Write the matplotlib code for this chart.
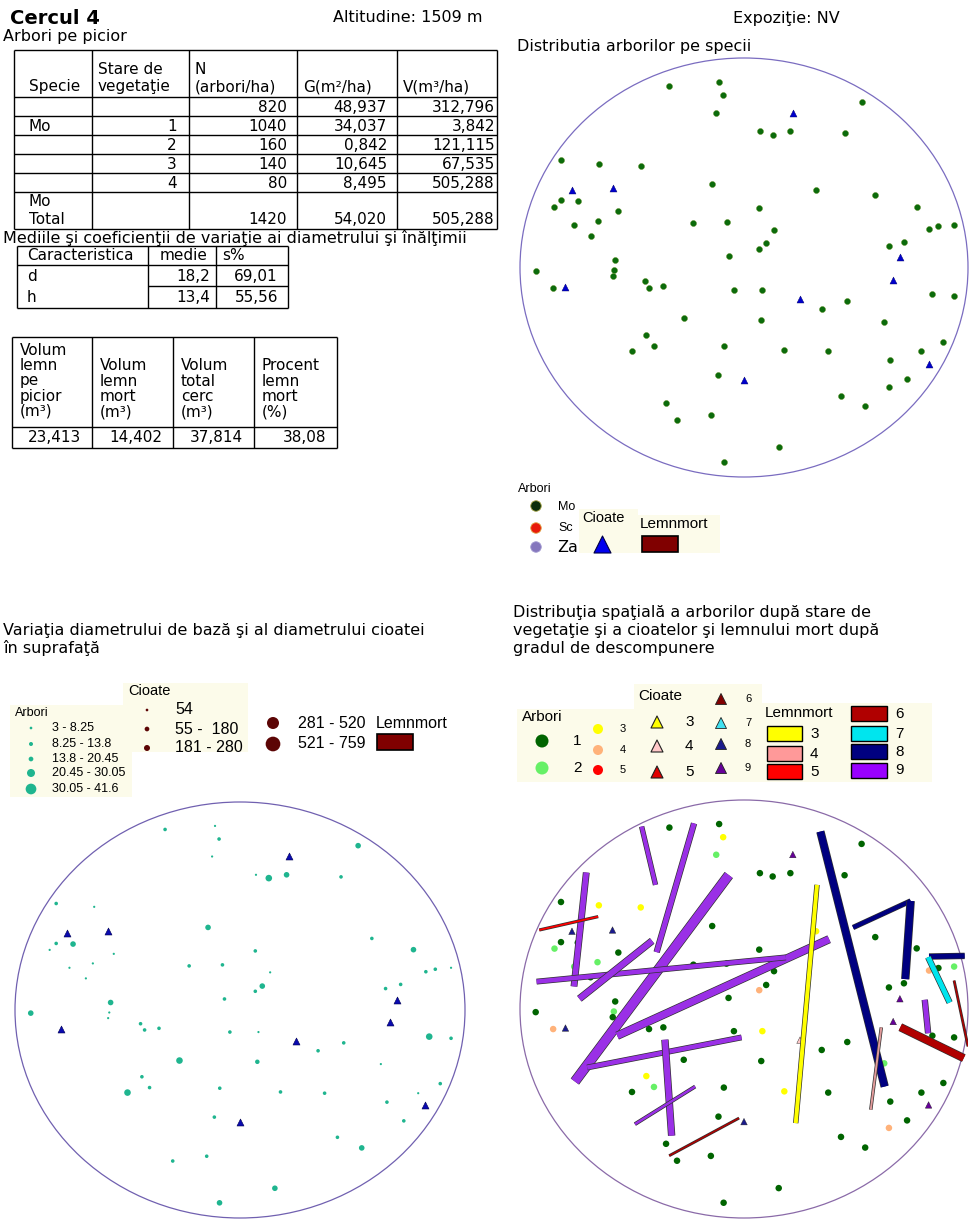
import matplotlib
matplotlib.use('Agg')
import matplotlib.pyplot as plt
from matplotlib.patches import Ellipse, Rectangle
import matplotlib.patheffects as pe

# ---------------- DATA ----------------
header_title = "Cercul 4"
altitude_text = "Altitudine: 1509 m"
expo_text = "Expoziţie: NV"

t1_header = ["Specie", "Stare de\nvegetaţie", "N\n(arbori/ha)", "G(m²/ha)", "V(m³/ha)"]
t1_specie = ["", "Mo", "", "", "", "Mo\nTotal"]
t1_stare = ["", "1", "2", "3", "4", ""]
t1_N = ["820", "1040", "160", "140", "80", "1420"]
t1_G = ["48,937", "34,037", "0,842", "10,645", "8,495", "54,020"]
t1_V = ["312,796", "3,842", "121,115", "67,535", "505,288", "505,288"]

t2_header = ["Caracteristica", "medie", "s%"]
t2_char = ["d", "h"]
t2_medie = ["18,2", "13,4"]
t2_s = ["69,01", "55,56"]

t3_header = ["Volum\nlemn\npe\npicior\n(m³)", "Volum\nlemn\nmort\n(m³)", "Volum\ntotal\ncerc\n(m³)", "Procent\nlemn\nmort\n(%)"]
t3_values = ["23,413", "14,402", "37,814", "38,08"]

# tree positions (plot coordinates, circle radius = 10)
tree_x = [-3.33, -1.11, -0.93, -1.24, 5.25, 0.71, 1.28, 2.07, 4.49, -8.17,
          -6.48, -4.61, -1.42, 3.22, 5.86, -8.17, -7.42, -8.46, -5.61, 7.71,
          0.68, -7.58, -6.54, -2.26, -0.78, 8.26, 8.68, 9.38, 1.34, -6.85,
          6.47, 7.14, 0.99, 0.68, -0.69, -5.75, -9.30, -5.81, -5.86, -8.52,
          -4.42, -4.24, -3.60, -0.45, 0.82, 8.41, 9.38, 3.47, 4.61, -2.69,
          0.77, 6.26, -4.36, -5.00, -4.02, -0.90, 1.80, 3.76, 8.90, 7.92,
          6.53, -1.14, 7.28, 6.47, 4.33, 5.41, -3.48, -2.99, -1.48, 1.55, -0.91]
tree_y = [8.68, 8.85, 8.22, 7.38, 7.90, 6.50, 6.34, 6.50, 6.40, 5.12,
          4.96, 4.86, 3.97, 3.72, 3.44, 3.20, 3.17, 2.89, 2.70, 2.90,
          2.84, 2.03, 2.24, 2.12, 2.17, 1.84, 1.96, 2.03, 1.81, 1.52,
          1.03, 1.23, 1.15, 0.90, 0.53, 0.36, -0.15, -0.12, -0.39, -0.96,
          -0.66, -0.96, -0.88, -1.06, -1.06, -1.28, -1.36, -1.96, -1.58, -2.43,
          -2.49, -2.60, -3.21, -3.97, -3.73, -3.76, -3.94, -4.00, -3.54, -4.00,
          -4.43, -5.15, -5.33, -5.69, -6.12, -6.63, -6.45, -7.26, -7.03, -8.57, -9.27]
tree_species = ["Mo"] * 71
# stare de vegetatie (1..5)
tree_state = [1, 1, 3, 2, 1, 1, 1, 1, 1, 1,
              3, 3, 1, 3, 1, 1, 1, 2, 1, 1,
              1, 2, 2, 1, 1, 4, 1, 2, 1, 1,
              1, 1, 1, 4, 1, 1, 1, 2, 1, 4,
              1, 1, 1, 1, 3, 1, 1, 1, 1, 1,
              1, 2, 3, 1, 2, 1, 3, 1, 1, 1,
              1, 1, 1, 4, 1, 1, 1, 1, 1, 1, 1]
# diameter class (1..5, 0 = no diameter recorded)
tree_dclass = [2, 1, 2, 1, 4, 1, 5, 4, 2, 2,
               1, 0, 4, 0, 2, 2, 4, 1, 1, 4,
               2, 1, 1, 2, 2, 2, 2, 1, 1, 1,
               2, 2, 4, 2, 2, 4, 4, 1, 1, 0,
               2, 2, 2, 2, 1, 5, 2, 2, 2, 5,
               3, 1, 2, 5, 2, 2, 2, 2, 2, 1,
               2, 2, 2, 0, 2, 4, 0, 2, 2, 4, 4]

# stumps (cioate)
stump_x = [2.18, -7.68, -5.87, 6.96, 6.66, -7.97, 2.50, 8.24, 0.00]
stump_y = [7.39, 3.72, 3.78, 0.49, -0.60, -0.91, -1.49, -4.59, -5.39]
stump_decomp = [9, 8, 8, 9, 9, 8, 4, 9, 8]

# dead wood logs (lemn mort): start, end, decomposition class, relative thickness
log_x0 = [-4.57, -2.23, -7.04, -0.68, 3.80, -9.26, -4.10, -0.11, -3.53, -2.18, 8.07,
          3.41, 4.87, 7.44, 8.26, 8.22, 6.98, -3.34, 9.38, -9.14, 3.26, 6.13]
log_y0 = [8.73, 8.88, 6.53, 6.41, 3.34, 1.31, 3.26, -1.36, -1.47, -3.71, 0.44,
          8.49, 3.90, 5.17, 2.51, 2.48, -0.87, -7.02, 1.36, 3.78, 5.94, -0.88]
log_x1 = [-3.95, -3.90, -7.59, -7.55, -5.66, 1.87, -7.35, -7.00, -3.23, -4.87, 8.22,
          6.28, 7.44, 7.20, 9.85, 9.18, 9.81, -0.22, 10.0, -6.51, 2.31, 5.66]
log_y1 = [5.94, 2.72, 1.08, -3.47, -1.28, 2.47, 0.49, -2.80, -6.06, -5.51, -1.16,
          -3.71, 5.17, 1.43, 2.54, 0.31, -2.35, -5.22, -1.79, 4.42, -5.46, -4.82]
log_class = [9, 9, 9, 9, 9, 9, 9, 9, 9, 9, 9,
             8, 8, 8, 8, 7, 6, 6, 6, 5, 3, 4]
log_thick = [4, 5, 5.5, 9, 7, 4.5, 6, 4.5, 6, 2.5, 5,
             7, 4, 7, 5, 5, 7, 1.5, 1.5, 1.8, 4, 2]

# legend labels
dclass_labels = ["3 - 8.25", "8.25 - 13.8", "13.8 - 20.45", "20.45 - 30.05", "30.05 - 41.6"]
stumpd_labels = ["54", "55 -  180", "181 - 280", "281 - 520", "521 - 759"]
species_labels = ["Mo", "Sc", "Za"]

# ---------------- STYLE ----------------
W, H = 969, 1219
BODY = 'DejaVu Sans'
LEG = 'Liberation Sans'
FS = 11.5      # free text
TFS = 11       # table text
CREAM = '#fcfbea'
GREEN = '#0b6b0b'
TEAL = '#1fb58f'
state_colors = {1: '#006400', 2: '#66f066', 3: '#ffff00', 4: '#ffb27a', 5: '#ff0000'}
stump_colors = {3: '#ffff00', 4: '#ffc8c8', 5: '#e00000', 6: '#800000', 7: '#40e0f0', 8: '#1a1a8c', 9: '#660099'}
log_colors = {3: '#ffff00', 4: '#e09a9a', 5: '#ff0000', 6: '#b00000', 7: '#00e5ee', 8: '#000080', 9: '#9a30e6'}
log_colors_leg = {3: '#ffff00', 4: '#ff9999', 5: '#ff0000', 6: '#b00000', 7: '#00e5ee', 8: '#000080', 9: '#9900ff'}
dclass_px = {1: 2.2, 2: 3.6, 3: 4.5, 4: 5.6, 5: 6.6}


def s_px(d):
    return (d * 0.72) ** 2


fig = plt.figure(figsize=(W / 100, H / 100), dpi=100)
ov = fig.add_axes([0, 0, 1, 1])
ov.set_xlim(0, W)
ov.set_ylim(H, 0)
ov.axis('off')


def txt(x, y, s, size=FS, ha='left', weight='normal', family=BODY, va='center', ls=1.0):
    ov.text(x, y, s, fontsize=size, ha=ha, va=va, weight=weight, family=family,
            linespacing=ls, color='black')


def mtxt(x, y_first, y_last, s, size=TFS, ha='left'):
    """multi-line text whose first/last line centres are at y_first/y_last (pixels)."""
    n = s.count("\n") + 1
    step = (y_last - y_first) / (n - 1)
    ls = step / (size * 100 / 72)
    ov.text(x, (y_first + y_last) / 2, s, fontsize=size, ha=ha, va='center', family=BODY,
            linespacing=ls, color='black', multialignment=ha)


def hline(x0, x1, y, lw=1.0):
    ov.plot([x0, x1], [y, y], color='black', lw=lw, solid_capstyle='butt')


def vline(x, y0, y1, lw=1.0):
    ov.plot([x, x], [y0, y1], color='black', lw=lw, solid_capstyle='butt')


def box(x0, y0, x1, y1, fc, ec='none', lw=0.0, z=1):
    ov.add_patch(Rectangle((x0, y0), x1 - x0, y1 - y0, fc=fc, ec=ec, lw=lw, zorder=z))


# ---------------- Header texts ----------------
txt(10, 18, header_title, size=14, weight='bold')
txt(333, 18, altitude_text)
txt(733, 18, expo_text)
txt(3, 37, "Arbori pe picior")

# ---------------- Table 1 ----------------
c1 = [14, 92, 189, 297, 397, 497]
r1 = [50, 97, 116, 135, 154, 173, 192, 229]
for x in c1:
    vline(x, r1[0], r1[-1])
for y in r1:
    hline(c1[0], c1[-1], y)
txt(c1[0] + 15, 87, t1_header[0], size=TFS)
for j in range(1, 5):
    if "\n" in t1_header[j]:
        mtxt(c1[j] + 6, 69, 87, t1_header[j])
    else:
        txt(c1[j] + 6, 87, t1_header[j], size=TFS)
cols = [t1_stare, t1_N, t1_G, t1_V]
pads = [12, 10, 10, 2]
for i in range(6):
    yc = (r1[i + 1] + r1[i + 2]) / 2 + 1
    ybot = r1[i + 2] - 9
    if "\n" in t1_specie[i]:
        mtxt(c1[0] + 15, ybot - 19, ybot, t1_specie[i])
    elif t1_specie[i]:
        txt(c1[0] + 15, yc, t1_specie[i], size=TFS)
    for j, col in enumerate(cols):
        if col[i]:
            txt(c1[j + 2] - pads[j], ybot if i == 5 else yc, col[i], ha='right', size=TFS)

# ---------------- Table 2 ----------------
txt(3, 238, "Mediile şi coeficienţii de variaţie ai diametrului şi înălţimii")
c2 = [17, 148, 216, 288]
r2 = [246, 265, 286, 308]
for x in c2:
    vline(x, r2[0], r2[-1])
hline(c2[0], c2[-1], r2[0])
hline(c2[0], c2[-1], r2[1])
hline(c2[1], c2[-1], r2[2])
hline(c2[0], c2[-1], r2[3])
txt(27, 255.5, t2_header[0], size=TFS)
txt(160, 255.5, t2_header[1], size=TFS)
txt(222, 255.5, t2_header[2], size=TFS)
for i in range(2):
    yc = (r2[i + 1] + r2[i + 2]) / 2 + 1
    txt(27, yc, t2_char[i], size=TFS)
    txt(c2[2] - 6, yc, t2_medie[i], ha='right', size=TFS)
    txt(c2[3] - 10, yc, t2_s[i], ha='right', size=TFS)

# ---------------- Table 3 ----------------
c3 = [12, 92, 173, 254, 337]
r3 = [337, 427, 448]
for x in c3:
    vline(x, r3[0], r3[-1])
for y in r3:
    hline(c3[0], c3[-1], y)
line_y = [350, 365.5, 381, 396.5, 412]
for j in range(4):
    n = t3_header[j].count("\n") + 1
    ys = line_y[len(line_y) - n:]
    mtxt(c3[j] + 8, ys[0], ys[-1], t3_header[j])
    txt(c3[j + 1] - 11, 438, t3_values[j], ha='right', size=TFS)

# ---------------- Circle axes ----------------
R = 10.0


def circ_ax(left, top, right, bottom, ec):
    ax = fig.add_axes([left / W, 1 - bottom / H, (right - left) / W, (bottom - top) / H])
    ax.set_xlim(-R, R)
    ax.set_ylim(-R, R)
    ax.axis('off')
    ax.add_patch(Ellipse((0, 0), 2 * R, 2 * R, fill=False, ec=ec, lw=0.9, clip_on=False, zorder=1))
    return ax


# Top-right: species distribution
txt(517, 46, "Distributia arborilor pe specii")
ax1 = circ_ax(520, 58, 968, 477, '#7a6cc0')
ax1.scatter(tree_x, tree_y, s=s_px(6), c=GREEN, edgecolors='#5a8a20', linewidths=0.3, zorder=3)
ax1.scatter(stump_x, stump_y, s=s_px(7), marker='^', c='#0000cc', edgecolors='#000066',
            linewidths=0.3, zorder=3)

# legend top-right
txt(518, 489, "Arbori", size=9, family=LEG)
sp_colors = ['#0b2e0b', '#e81a0a', '#8577bd']
sp_y = [506, 528, 547]
ov.scatter([536] * 3, sp_y, s=s_px(10.5), c=sp_colors, edgecolors=['#a0a040', '#e0a040', '#a098d0'],
           linewidths=0.6, zorder=3)
txt(558, 507, species_labels[0], size=9, family=LEG)
txt(558, 528, species_labels[1], size=9, family=LEG)
txt(557, 548, species_labels[2], size=FS, family=BODY)
box(579, 509, 638, 553, CREAM)
box(638, 515, 720, 553, CREAM)
txt(582, 518, "Cioate", size=10.5, family=LEG)
ov.scatter([602], [544], s=s_px(17), marker='^', c='#0000ee', edgecolors='#000044', linewidths=0.8, zorder=3)
txt(640, 524, "Lemnmort", size=11, family=LEG)
box(642, 536, 678, 552, '#800000', ec='black', lw=1.2, z=3)

# ---------------- Bottom-left: diameters ----------------
txt(3, 631, "Variaţia diametrului de bază şi al diametrului cioatei")
txt(3, 648, "în suprafaţă")
ax2 = circ_ax(15, 802, 465, 1218, '#7060b0')
bx = [x for x, d in zip(tree_x, tree_dclass) if d > 0]
by = [y for y, d in zip(tree_y, tree_dclass) if d > 0]
bs = [s_px(dclass_px[d]) for d in tree_dclass if d > 0]
ax2.scatter(bx, by, s=bs, c=TEAL, edgecolors='none', zorder=3)
ax2.scatter(stump_x, stump_y, s=s_px(7), marker='^', c='#0a0ab0', edgecolors='#000050',
            linewidths=0.4, zorder=3)

# legend bottom-left
box(10, 705, 132, 797, CREAM)
box(123, 683, 248, 752, CREAM)
txt(15, 713, "Arbori", size=9, family=LEG)
leg_d = [2.7, 4.0, 4.7, 8.0, 10.7]
leg_y = [728, 744, 759, 773, 789]
ov.scatter([31] * 5, leg_y, s=[s_px(d) for d in leg_d], c=TEAL, edgecolors='none', zorder=3)
for lab, y in zip(dclass_labels, leg_y):
    txt(52, y, lab, size=9, family=LEG)
txt(128, 691, "Cioate", size=10.5, family=LEG)
st_d = [2.7, 4.7, 6.0, 12.0, 14.7]
st_x = [147, 147, 147, 273, 273]
st_y = [710, 729, 748, 723, 744]
ov.scatter(st_x, st_y, s=[s_px(d) for d in st_d], c='#5c0505', edgecolors='none', zorder=3)
lab_x = [175, 175, 175, 298, 298]
for lab, x, y in zip(stumpd_labels, lab_x, st_y):
    txt(x, y, lab, size=11.5, family=LEG)
txt(376, 723, "Lemnmort", size=11.5, family=LEG)
box(377, 734, 413, 750, '#800000', ec='black', lw=1.2, z=3)

# ---------------- Bottom-right: state & dead wood ----------------
txt(513, 612, "Distribuţia spaţială a arborilor după stare de")
txt(513, 630, "vegetaţie şi a cioatelor şi lemnului mort după")
txt(513, 648, "gradul de descompunere")
ax3 = circ_ax(520, 800, 968, 1218, '#8a6aa8')
ax3.scatter(tree_x, tree_y, s=s_px(6.5), c=[state_colors[s] for s in tree_state],
            edgecolors='none', zorder=3)
ax3.scatter(stump_x, stump_y, s=s_px(6.5), marker='^', c=[stump_colors[c] for c in stump_decomp],
            edgecolors='#202020', linewidths=0.3, zorder=3)
for x0, y0, x1, y1, c, t in zip(log_x0, log_y0, log_x1, log_y1, log_class, log_thick):
    lw = t * 0.72
    ax3.plot([x0, x1], [y0, y1], color=log_colors[c], lw=lw, solid_capstyle='butt', zorder=4,
             path_effects=[pe.Stroke(linewidth=lw + 1.0, foreground='#303030'), pe.Normal()])

# legend bottom-right
box(517, 709, 634, 782, CREAM)
box(634, 684, 762, 782, CREAM)
box(762, 703, 932, 782, CREAM)
txt(522, 717, "Arbori", size=11, family=LEG)
ov.scatter([542, 542], [741, 768], s=s_px(13), c=[state_colors[1], state_colors[2]], edgecolors='none', zorder=3)
txt(573, 741, "1", size=11, family=LEG)
txt(573, 768, "2", size=11, family=LEG)
ov.scatter([598] * 3, [729, 750, 770], s=s_px(10),
           c=[state_colors[3], state_colors[4], state_colors[5]], edgecolors='none', zorder=3)
for lab, y in zip(["3", "4", "5"], [729, 750, 770]):
    txt(620, y, lab, size=8, family=LEG)
txt(638, 696, "Cioate", size=11, family=LEG)
tri_a_y = [722, 746, 772]
ov.scatter([657] * 3, tri_a_y, s=s_px(12), marker='^', c=[stump_colors[k] for k in (3, 4, 5)],
           edgecolors='#202020', linewidths=0.8, zorder=3)
for lab, y in zip(["3", "4", "5"], tri_a_y):
    txt(685, y, lab, size=11, family=LEG)
tri_b_y = [699, 723, 744, 768]
ov.scatter([721] * 4, tri_b_y, s=s_px(11), marker='^', c=[stump_colors[k] for k in (6, 7, 8, 9)],
           edgecolors='#202020', linewidths=0.6, zorder=3)
for lab, y in zip(["6", "7", "8", "9"], tri_b_y):
    txt(745, y, lab, size=8, family=LEG)
txt(765, 713, "Lemnmort", size=11, family=LEG)
rect_a = [(726, 3), (746, 4), (764, 5)]
for y, k in rect_a:
    box(767, y, 802, y + 15, log_colors_leg[k], ec='black', lw=1.0, z=3)
    txt(810, y + 7.5, str(k), size=11, family=LEG)
rect_b = [(706, 6), (726, 7), (744, 8), (763, 9)]
for y, k in rect_b:
    box(851, y, 887, y + 14.5, log_colors_leg[k], ec='black', lw=1.0, z=3)
    txt(895, y + 7.5, str(k), size=11, family=LEG)

fig.savefig('out.png', dpi=100)
